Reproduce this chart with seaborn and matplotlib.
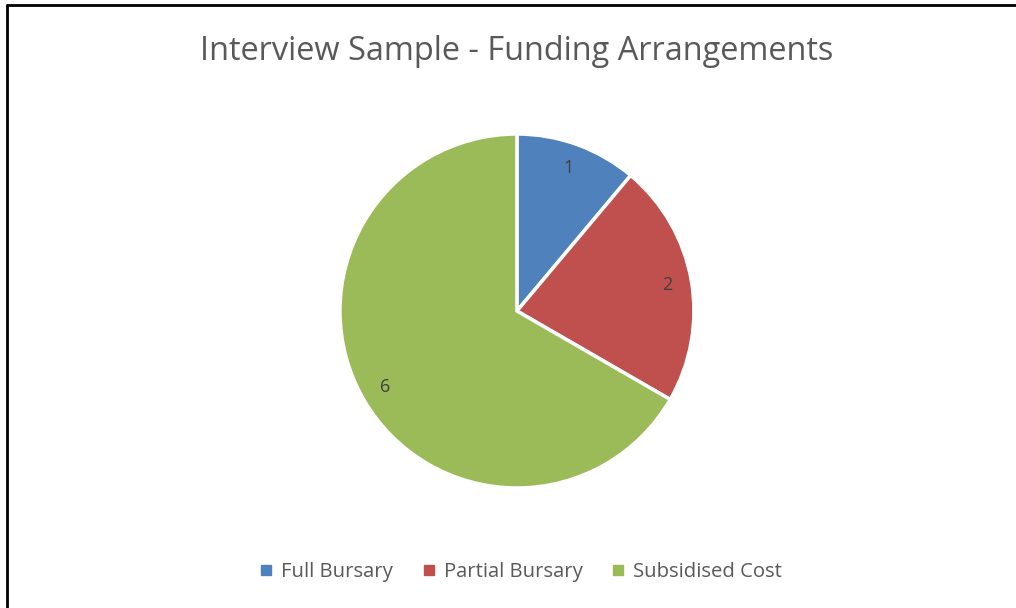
import matplotlib
matplotlib.use("Agg")
import matplotlib.pyplot as plt
from matplotlib.lines import Line2D
import seaborn as sns

categories = ["Full Bursary", "Partial Bursary", "Subsidised Cost"]
counts = [1, 2, 6]
colors = ["#4F81BD", "#C0504D", "#9BBB59"]

sns.set_theme(style="white")
plt.rcParams["font.family"] = ["Open Sans", "DejaVu Sans"]
text_color = "#595959"

fig = plt.figure(figsize=(10.16, 6.08), dpi=100)
ax = fig.add_axes([0.3346, 0.1974, 0.3484, 0.5822])

wedges, texts = ax.pie(
    counts,
    labels=[str(c) for c in counts],
    colors=colors,
    startangle=90,
    counterclock=False,
    labeldistance=0.86,
    wedgeprops=dict(edgecolor="white", linewidth=2.5),
    textprops=dict(color="#404040", fontsize=13),
)
for t in texts:
    t.set_ha("center")
    t.set_va("center")
ax.set_xlim(-1, 1)
ax.set_ylim(-1, 1)
ax.set_aspect("equal")
ax.axis("off")

fig.suptitle("Interview Sample - Funding Arrangements", x=0.509, y=0.915,
             fontsize=23.4, color=text_color, va="center")

handles = [Line2D([0], [0], marker="s", linestyle="", markersize=7,
                  markerfacecolor=c, markeredgecolor=c) for c in colors]
fig.legend(handles, categories, loc="center", bbox_to_anchor=(0.513, 0.059),
           ncol=3, frameon=False, fontsize=14.6, labelcolor=text_color,
           handlelength=0.6, handletextpad=0.45, columnspacing=1.45)

# chart border (only top and left edges visible in the crop)
fig.add_artist(Line2D([0.007, 1.0], [0.9918, 0.9918], color="black", linewidth=2))
fig.add_artist(Line2D([0.007, 0.007], [0.0, 0.9918], color="black", linewidth=2))

fig.savefig("out.png", dpi=100, facecolor="white")
